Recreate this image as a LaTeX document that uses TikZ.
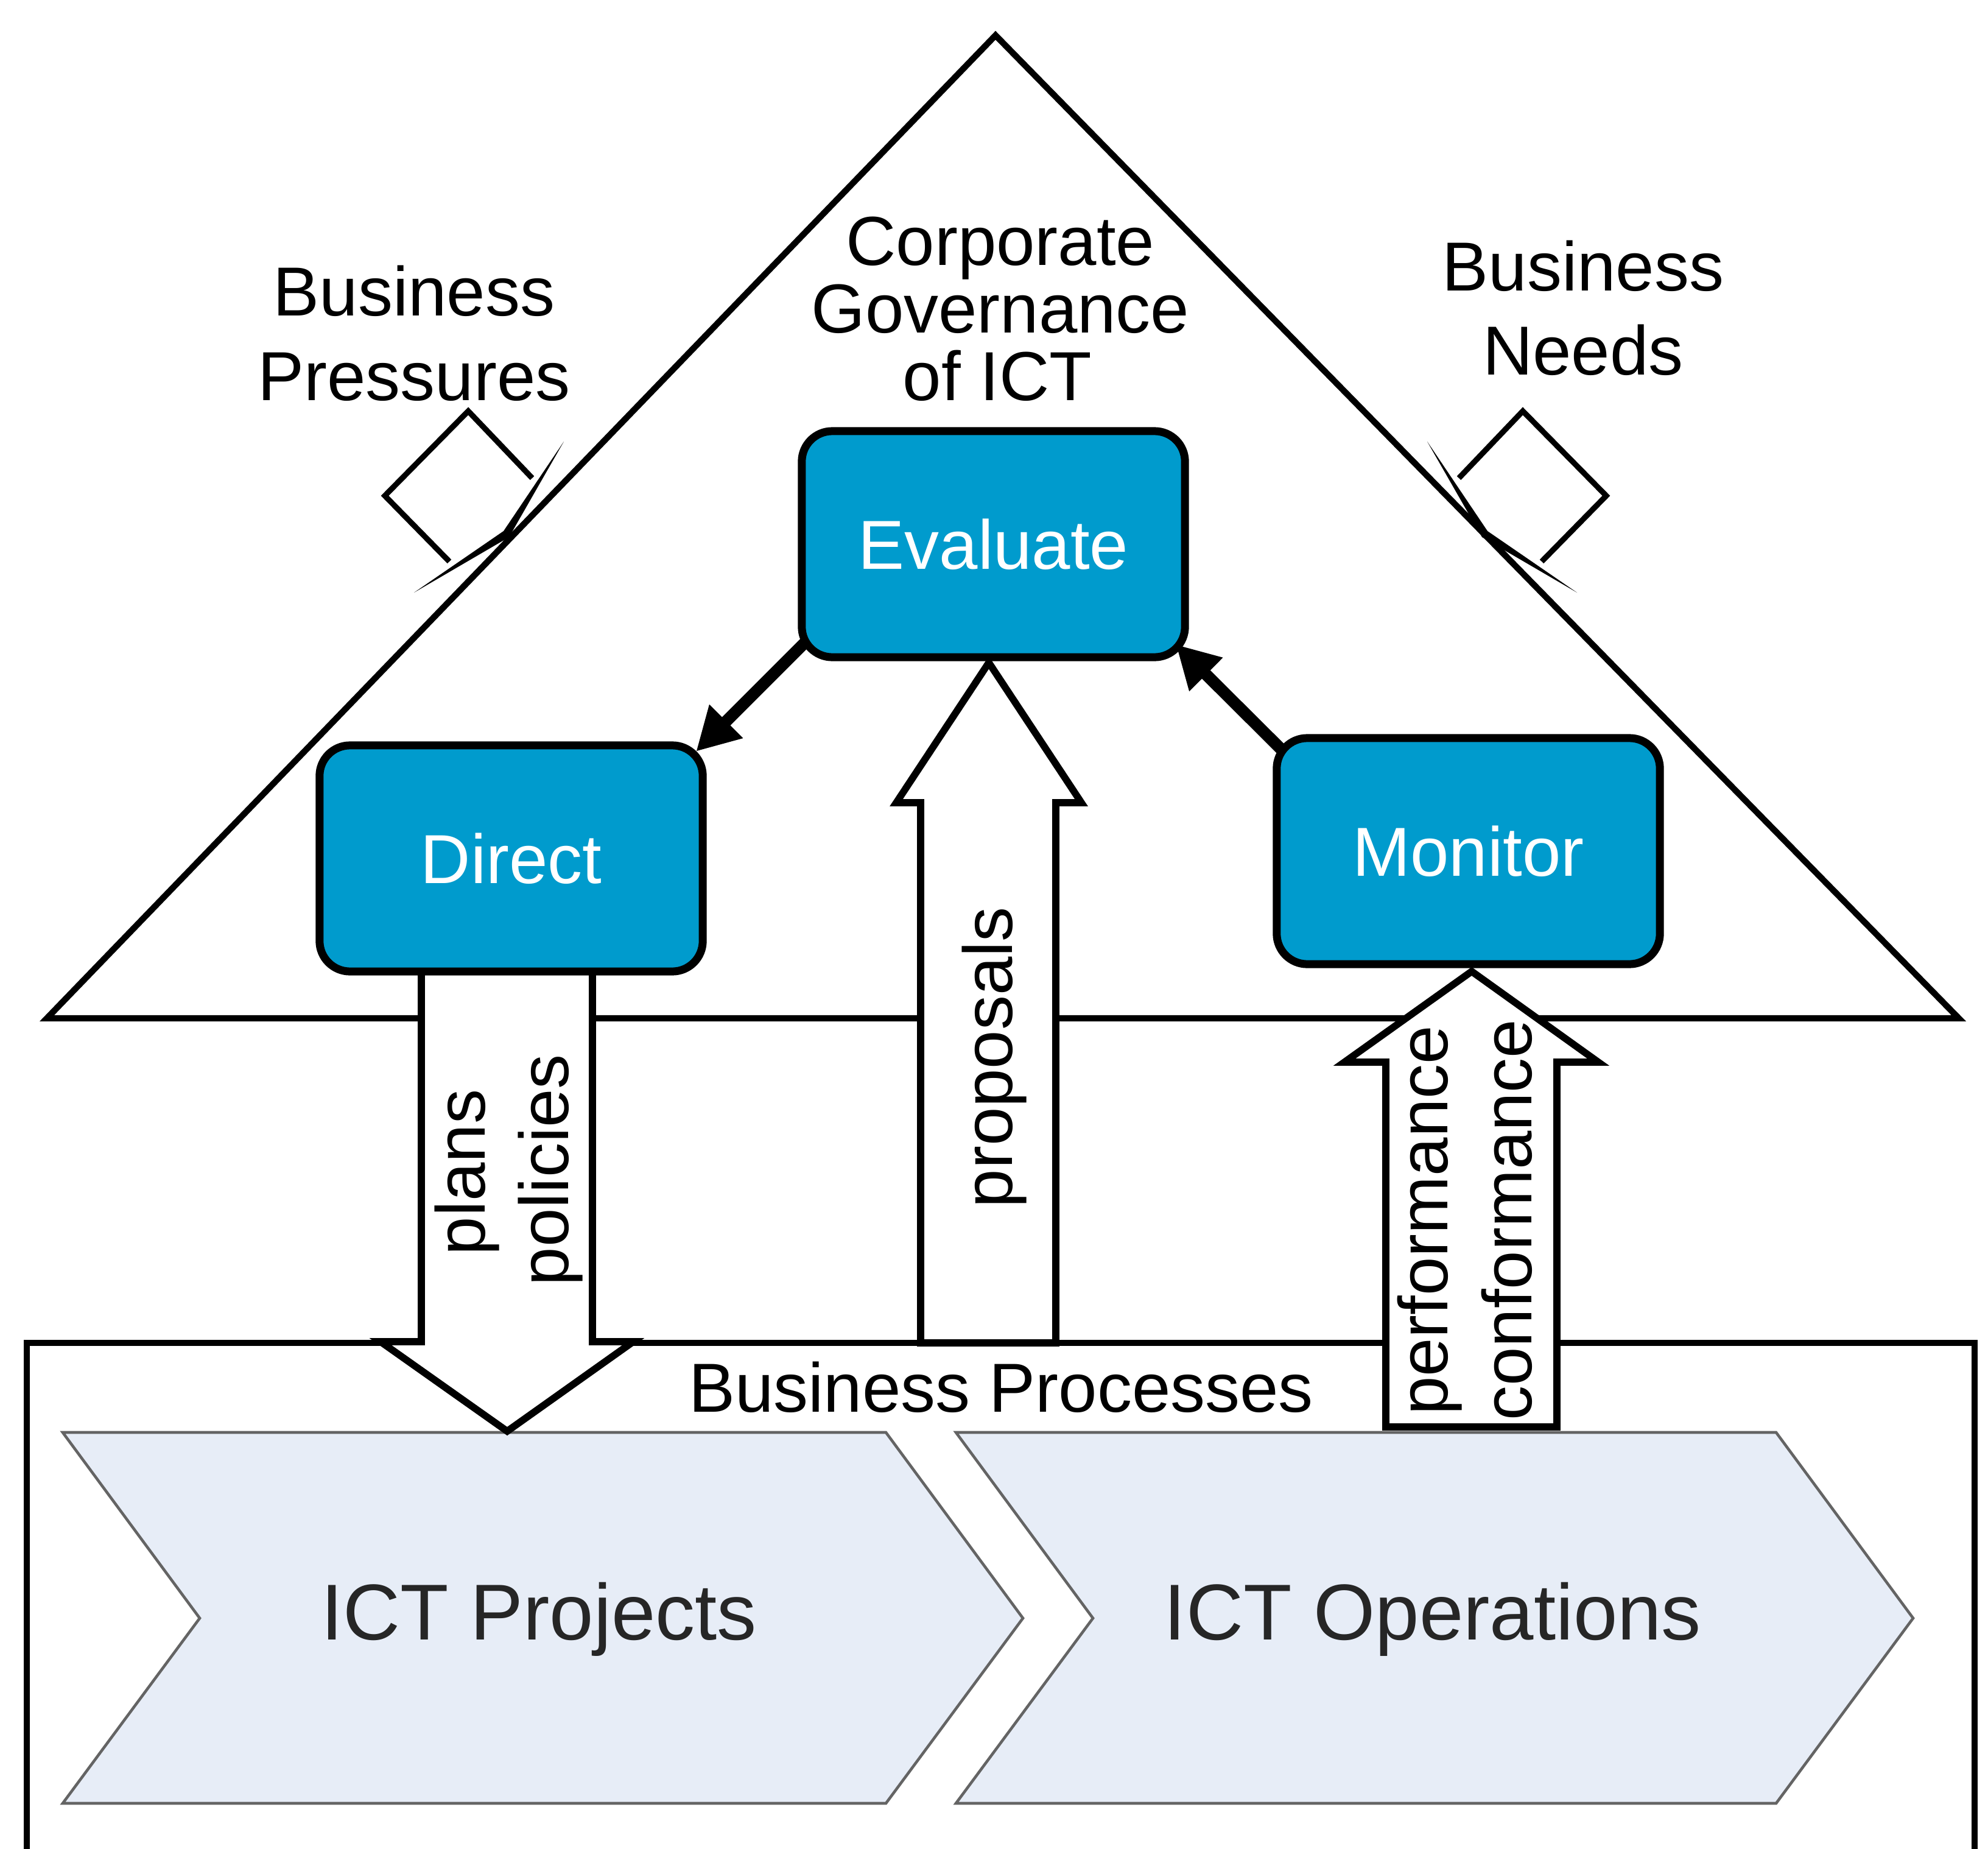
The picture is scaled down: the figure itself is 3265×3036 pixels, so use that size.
\documentclass[tikz,border=0pt]{standalone}
\usepackage{fontspec}
\setmainfont{Liberation Sans}
\usetikzlibrary{arrows.meta}
\definecolor{govblue}{RGB}{0,155,205}
\definecolor{chevfill}{RGB}{231,237,247}
\definecolor{chevline}{RGB}{100,100,100}
\newcommand\bigfont{\fontsize{32.4}{39}\selectfont}
\newcommand\chevfont{\fontsize{37}{44}\selectfont}
\begin{document}
\begin{tikzpicture}[x=0.01cm,y=-0.01cm,
  govbox/.style={draw=black,line width=3.7pt,fill=govblue,rounded corners=0.5cm,
    minimum width=6.29cm,minimum height=3.71cm,inner sep=0pt,outer sep=0pt,
    text=white,font=\bigfont},
  lbl/.style={anchor=base,inner sep=0pt,font=\bigfont},
  vlbl/.style={lbl,rotate=90},
  chev/.style={fill=chevfill,draw=chevline,line width=1.3pt,line join=miter},
  chevtext/.style={anchor=base,inner sep=0pt,font=\chevfont,text=black!85},
  blockarrow/.style={fill=white,draw=black,line width=3.3pt,line join=miter},
  conn/.style={draw=black,line width=5.5pt,-{Triangle[length=0.70cm,width=0.73cm]}},
  roof/.style={draw=black,line width=2.9pt,line join=miter},
  baseframe/.style={draw=black,line width=3.1pt,line join=miter},
  sigil/.style={draw=black,line width=2.6pt,line join=miter},
]
\fill[white] (0,0) rectangle (3265,3036);
\useasboundingbox (0,0) rectangle (3265,3036);

% roof triangle
\draw[roof] (1635,58) -- (3217,1672) -- (77,1672) -- cycle;

% business processes frame
\draw[baseframe] (44,3060) -- (44,2205) -- (3243,2205) -- (3243,3060);

% chevrons
\draw[chev] (103,2352) -- (1455,2352) -- (1680,2657) -- (1455,2961) -- (103,2961) -- (328,2657) -- cycle;
\draw[chev] (1570,2352) -- (2917,2352) -- (3142,2657) -- (2917,2961) -- (1570,2961) -- (1795,2657) -- cycle;
\node[chevtext] (proj) at (885,2692) {ICT Projects};
\node[chevtext] (oper) at (2353,2692) {ICT Operations};

% pressure / need sigils
\draw[sigil] (874,785) -- (769,675) -- (632,814) -- (738,922);
\fill[black] (926,725) -- (827,872) -- (680,973) -- (836,882) -- cycle;
\begin{scope}[shift={(3270,0)},xscale=-1]
  \draw[sigil] (874,785) -- (769,675) -- (632,814) -- (738,922);
  \fill[black] (926,725) -- (827,872) -- (680,973) -- (836,882) -- cycle;
\end{scope}

% block arrows
\filldraw[blockarrow] (692,1598) -- (692,2203) -- (625,2203) -- (833,2350) -- (1040,2203) -- (973,2203) -- (973,1598);
\filldraw[blockarrow] (1512,2205) -- (1512,1318) -- (1472,1318) -- (1624,1088) -- (1776,1318) -- (1734,1318) -- (1734,2205) -- cycle;
\filldraw[blockarrow] (2276,2343) -- (2276,1744) -- (2208,1744) -- (2417,1595) -- (2625,1744) -- (2557,1744) -- (2557,2343) -- cycle;

% boxes
\node[govbox] (eval) at (1631.5,893.5) {Evaluate};
\node[govbox] (direct) at (839.5,1409.5) {Direct};
\node[govbox] (monitor) at (2411.5,1397.5) {Monitor};

% connectors
\draw[conn] ([shift={(8,-27)}]eval.south west) -- ([shift={(-11,10)}]direct.north east);
\draw[conn] ([shift={(10,21)}]monitor.north west) -- ([shift={(-15,-21)}]eval.south east);

% labels
\node[lbl] (bp1) at (680,518) {Business};
\node[lbl] (bp2) at (680,657) {Pressures};
\node[lbl] (bn1) at (2600,477) {Business};
\node[lbl] (bn2) at (2600,615) {Needs};
\node[lbl] (cg1) at (1643,435) {Corporate};
\node[lbl] (cg2) at (1643,546) {Governance};
\node[lbl] (cg3) at (1638,657) {of ICT};
\node[lbl] (bproc) at (1644,2318) {Business Processes};
\node[vlbl] (plans) at (796,1925) {plans};
\node[vlbl] (policies) at (933,1921) {policies};
\node[vlbl] (proposals) at (1662,1736) {proposals};
\node[vlbl] (perf) at (2377,2004) {performance};
\node[vlbl] (conf) at (2515,2003) {conformance};
\end{tikzpicture}
\end{document}
